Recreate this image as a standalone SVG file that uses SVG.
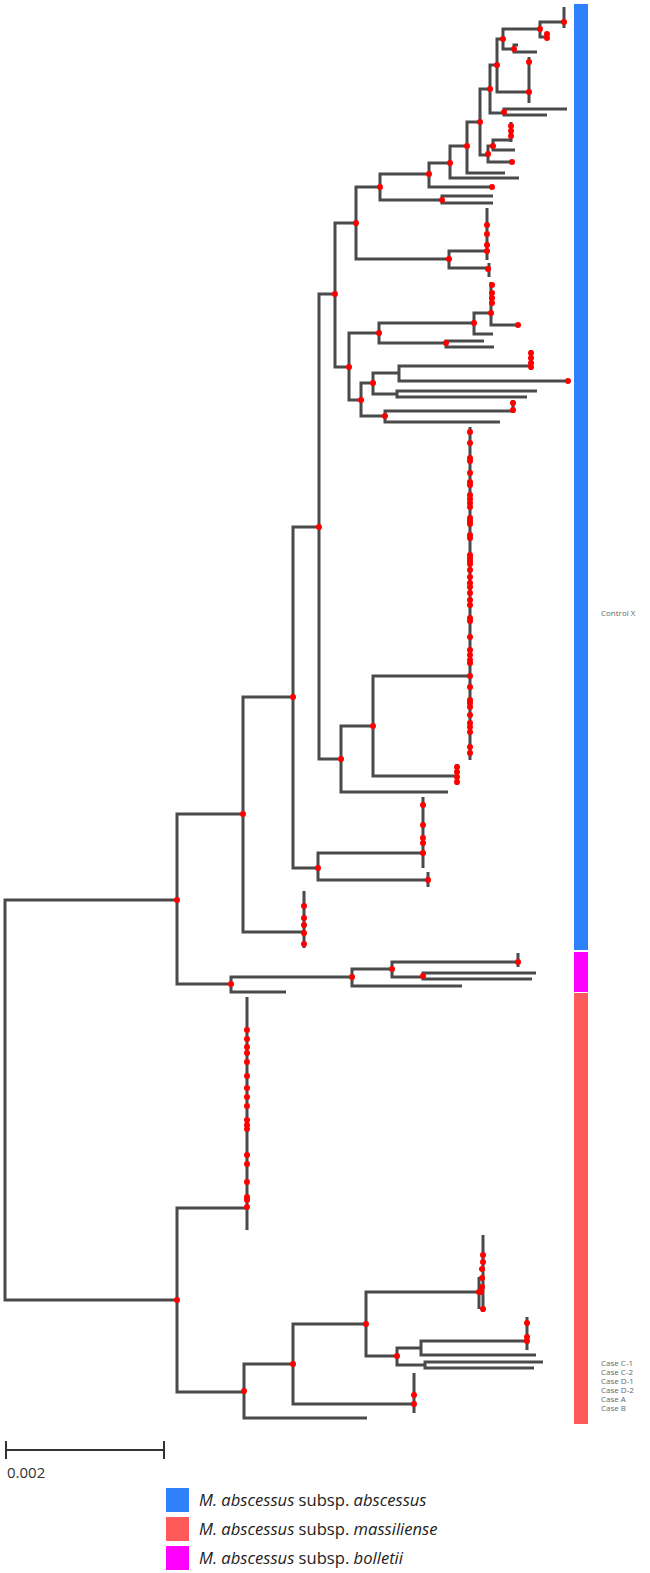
<svg xmlns="http://www.w3.org/2000/svg" width="650" height="1573" viewBox="0 0 650 1573">
<style>
.br{fill:none;stroke:#4a4a4a;stroke-width:3}
.d{fill:#ff0000}
.lab{font-family:"Open Sans","Liberation Sans",sans-serif;font-size:8px;fill:#666}
.leg{font-family:"Open Sans","Liberation Sans",sans-serif;font-size:16.6px;fill:#222}
.sc{font-family:"Open Sans","Liberation Sans",sans-serif;font-size:15px;fill:#333}
</style>
<rect width="650" height="1573" fill="#fff"/>
<g id="connectors">
<path class="br" d="M5 1100V900H177 M5 1100V1300H177
M177 900V814H243 M177 900V984H231
M243 814V697H293 M243 814V932H304 M304 891V948
M293 697V527H319 M293 697V868H318
M319 527V294H335 M319 527V759H341
M335 294V223H356 M335 294V367H349
M356 223V187H380 M356 223V259H449
M449 259V251H487 M449 259V268H488 M487 208V260 M489 263V277
M380 187V174H429 M380 187V200H442
M442 200V196H493 M442 200V203H493
M429 174V163H450 M429 174V187H492
M450 163V146H467 M450 163V178H519
M467 146V122H480 M467 146V173H505
M480 122V89H490 M480 122V155H488
M490 89V65H497 M490 89V113H504
M504 112V109H567 M504 112V115H547
M497 65V39H503 M497 65V92H529 M529 57V103
M503 39V29H540 M503 39V49H514
M540 29V22H564 M540 29V37H547 M564 7V28 M547 33V39
M514 49V45H518 M514 49V52H537
M488 154V146H493 M488 154V162H512
M493 146V140H511 M511 122V142 M493 146V150H515
M349 367V333H379 M349 367V400H361
M379 333V323H474 M379 333V343H446
M474 323V313H491 M474 323V334H493
M491 282V313V325H518
M446 343V341H484 M446 343V347H494
M361 400V383H373 M361 400V416H385
M373 383V373H399 M373 383V394H397
M399 373V366H531 M399 373V381H568 M531 350V370
M397 394V391H537 M397 394V397H527
M385 416V411H513 M385 416V422H500 M513 400V413
M341 759V726H373 M341 759V792H448
M373 726V676H470 M373 726V776H457 M470 427V760 M457 764V785
M318 868V853H423 M318 868V880H428 M423 797V868 M428 872V887
M231 984V977H352 M231 984V992H286
M352 977V969H392 M352 977V986H462
M392 969V962H518 M392 969V977H423 M518 953V967
M423 976V973H536 M423 976V979H532
M177 1300V1208H247 M177 1300V1392H244 M247 997V1230
M244 1391V1364H293 M244 1391V1418H367
M293 1364V1324H366 M293 1364V1404H414 M414 1373V1413
M366 1324V1292H479 M366 1324V1356H397 M479 1277V1309 M483 1235V1312
M397 1356V1348H421 M397 1356V1365H425
M421 1348V1341H527 M421 1348V1355H536 M527 1317V1350
M425 1365V1362H543 M425 1365V1368H534"/>
</g>
<g id="internal-nodes">
<g id="n-A"><circle class="d" cx="177" cy="900" r="3"/></g>
<g id="n-B"><circle class="d" cx="177" cy="1300" r="3"/></g>
<g id="n-C1"><circle class="d" cx="243" cy="814" r="3"/></g>
<g id="n-C"><circle class="d" cx="293" cy="697" r="3"/></g>
<g id="n-D0"><circle class="d" cx="319" cy="527" r="3"/></g>
<g id="n-D"><circle class="d" cx="335" cy="294" r="3"/></g>
<g id="n-E"><circle class="d" cx="356" cy="223" r="3"/></g>
<g id="n-G"><circle class="d" cx="380" cy="187" r="3"/></g>
<g id="n-H"><circle class="d" cx="449" cy="259" r="3"/></g>
<g id="n-I"><circle class="d" cx="429" cy="174" r="3"/></g>
<g id="n-J"><circle class="d" cx="442" cy="200" r="3"/></g>
<g id="n-K"><circle class="d" cx="450" cy="163" r="3"/></g>
<g id="n-M"><circle class="d" cx="467" cy="146" r="3"/></g>
<g id="n-P"><circle class="d" cx="480" cy="122" r="3"/></g>
<g id="n-Q"><circle class="d" cx="490" cy="89" r="3"/></g>
<g id="n-T"><circle class="d" cx="497" cy="65" r="3"/></g>
<g id="n-U"><circle class="d" cx="504" cy="112" r="3"/></g>
<g id="n-V"><circle class="d" cx="503" cy="39" r="3"/></g>
<g id="n-W"><circle class="d" cx="540" cy="29" r="3"/></g>
<g id="n-X"><circle class="d" cx="514" cy="49" r="3"/></g>
<g id="n-S"><circle class="d" cx="488" cy="154" r="3"/><circle class="d" cx="493" cy="146" r="3"/></g>
<g id="n-F"><circle class="d" cx="349" cy="367" r="3"/></g>
<g id="n-F1"><circle class="d" cx="379" cy="333" r="3"/></g>
<g id="n-F3"><circle class="d" cx="474" cy="323" r="3"/></g>
<g id="n-F4"><circle class="d" cx="446" cy="343" r="3"/></g>
<g id="n-F2"><circle class="d" cx="361" cy="400" r="3"/></g>
<g id="n-F6"><circle class="d" cx="373" cy="383" r="3"/></g>
<g id="n-F7"><circle class="d" cx="385" cy="416" r="3"/></g>
<g id="n-N341"><circle class="d" cx="341" cy="759" r="3"/></g>
<g id="n-N373"><circle class="d" cx="373" cy="726" r="3"/></g>
<g id="n-N318"><circle class="d" cx="318" cy="868" r="3"/></g>
<g id="n-A2"><circle class="d" cx="231" cy="984" r="3"/></g>
<g id="n-A3"><circle class="d" cx="352" cy="977" r="3"/></g>
<g id="n-A4"><circle class="d" cx="392" cy="969" r="3"/></g>
<g id="n-A5"><circle class="d" cx="423" cy="976" r="3"/></g>
<g id="n-B1"><circle class="d" cx="244" cy="1391" r="3"/></g>
<g id="n-B2"><circle class="d" cx="293" cy="1364" r="3"/></g>
<g id="n-B3"><circle class="d" cx="366" cy="1324" r="3"/></g>
<g id="n-B4"><circle class="d" cx="479" cy="1292" r="3"/></g>
<g id="n-B5"><circle class="d" cx="397" cy="1356" r="3"/></g>
</g>
<g id="tip-nodes">
<g id="t-top"><circle class="d" cx="564" cy="22" r="3"/><circle class="d" cx="547" cy="34" r="3"/><circle class="d" cx="547" cy="38" r="3"/><circle class="d" cx="529" cy="62" r="3"/><circle class="d" cx="529" cy="92" r="3"/><circle class="d" cx="511" cy="126" r="3"/><circle class="d" cx="511" cy="131" r="3"/><circle class="d" cx="511" cy="136" r="3"/><circle class="d" cx="512" cy="162" r="3"/><circle class="d" cx="492" cy="187" r="3"/><circle class="d" cx="487" cy="225" r="3"/><circle class="d" cx="487" cy="234" r="3"/><circle class="d" cx="487" cy="245" r="3"/><circle class="d" cx="487" cy="251" r="3"/><circle class="d" cx="488" cy="269" r="3"/></g>
<g id="t-mid"><circle class="d" cx="492" cy="285" r="3"/><circle class="d" cx="492" cy="293" r="3"/><circle class="d" cx="492" cy="298" r="3"/><circle class="d" cx="492" cy="303" r="3"/><circle class="d" cx="491" cy="313" r="3"/><circle class="d" cx="518" cy="325" r="3"/><circle class="d" cx="531" cy="353" r="3"/><circle class="d" cx="531" cy="358" r="3"/><circle class="d" cx="531" cy="363" r="3"/><circle class="d" cx="531" cy="367" r="3"/><circle class="d" cx="568" cy="381" r="3"/><circle class="d" cx="513" cy="403" r="3"/><circle class="d" cx="513" cy="410" r="3"/></g>
<g id="t-big"><circle class="d" cx="470" cy="432" r="3"/><circle class="d" cx="470" cy="443" r="3"/><circle class="d" cx="470" cy="458" r="3"/><circle class="d" cx="470" cy="461" r="3"/><circle class="d" cx="470" cy="473" r="3"/><circle class="d" cx="470" cy="482" r="3"/><circle class="d" cx="470" cy="485" r="3"/><circle class="d" cx="470" cy="495" r="3"/><circle class="d" cx="470" cy="499" r="3"/><circle class="d" cx="470" cy="503" r="3"/><circle class="d" cx="470" cy="507" r="3"/><circle class="d" cx="470" cy="518" r="3"/><circle class="d" cx="470" cy="521" r="3"/><circle class="d" cx="470" cy="524" r="3"/><circle class="d" cx="470" cy="535" r="3"/><circle class="d" cx="470" cy="538" r="3"/><circle class="d" cx="470" cy="555" r="3"/><circle class="d" cx="470" cy="558" r="3"/><circle class="d" cx="470" cy="561" r="3"/><circle class="d" cx="470" cy="564" r="3"/><circle class="d" cx="470" cy="570" r="3"/><circle class="d" cx="470" cy="577" r="3"/><circle class="d" cx="470" cy="583" r="3"/><circle class="d" cx="470" cy="587" r="3"/><circle class="d" cx="470" cy="593" r="3"/><circle class="d" cx="470" cy="600" r="3"/><circle class="d" cx="470" cy="605" r="3"/><circle class="d" cx="470" cy="618" r="3"/><circle class="d" cx="470" cy="621" r="3"/><circle class="d" cx="470" cy="637" r="3"/><circle class="d" cx="470" cy="650" r="3"/><circle class="d" cx="470" cy="655" r="3"/><circle class="d" cx="470" cy="660" r="3"/><circle class="d" cx="470" cy="663" r="3"/><circle class="d" cx="470" cy="676" r="3"/><circle class="d" cx="470" cy="687" r="3"/><circle class="d" cx="470" cy="700" r="3"/><circle class="d" cx="470" cy="703" r="3"/><circle class="d" cx="470" cy="707" r="3"/><circle class="d" cx="470" cy="715" r="3"/><circle class="d" cx="470" cy="723" r="3"/><circle class="d" cx="470" cy="727" r="3"/><circle class="d" cx="470" cy="732" r="3"/><circle class="d" cx="470" cy="747" r="3"/><circle class="d" cx="470" cy="753" r="3"/><circle class="d" cx="457" cy="767" r="3"/><circle class="d" cx="457" cy="772" r="3"/><circle class="d" cx="457" cy="777" r="3"/><circle class="d" cx="457" cy="782" r="3"/></g>
<g id="t-lower"><circle class="d" cx="423" cy="805" r="3"/><circle class="d" cx="423" cy="825" r="3"/><circle class="d" cx="423" cy="838" r="3"/><circle class="d" cx="423" cy="843" r="3"/><circle class="d" cx="423" cy="853" r="3"/><circle class="d" cx="428" cy="880" r="3"/><circle class="d" cx="304" cy="906" r="3"/><circle class="d" cx="304" cy="918" r="3"/><circle class="d" cx="304" cy="925" r="3"/><circle class="d" cx="304" cy="933" r="3"/><circle class="d" cx="304" cy="944" r="3"/><circle class="d" cx="518" cy="962" r="3"/></g>
<g id="t-mass"><circle class="d" cx="247" cy="1030" r="3"/><circle class="d" cx="247" cy="1039" r="3"/><circle class="d" cx="247" cy="1047" r="3"/><circle class="d" cx="247" cy="1053" r="3"/><circle class="d" cx="247" cy="1062" r="3"/><circle class="d" cx="247" cy="1076" r="3"/><circle class="d" cx="247" cy="1088" r="3"/><circle class="d" cx="247" cy="1097" r="3"/><circle class="d" cx="247" cy="1106" r="3"/><circle class="d" cx="247" cy="1120" r="3"/><circle class="d" cx="247" cy="1125" r="3"/><circle class="d" cx="247" cy="1129" r="3"/><circle class="d" cx="247" cy="1155" r="3"/><circle class="d" cx="247" cy="1164" r="3"/><circle class="d" cx="247" cy="1182" r="3"/><circle class="d" cx="247" cy="1197" r="3"/><circle class="d" cx="247" cy="1200" r="3"/><circle class="d" cx="247" cy="1207" r="3"/><circle class="d" cx="483" cy="1255" r="3"/><circle class="d" cx="483" cy="1262" r="3"/><circle class="d" cx="482" cy="1269" r="3"/><circle class="d" cx="482" cy="1278" r="3"/><circle class="d" cx="482" cy="1287" r="3"/><circle class="d" cx="481" cy="1292" r="3"/><circle class="d" cx="483" cy="1309" r="3"/><circle class="d" cx="527" cy="1323" r="3"/><circle class="d" cx="527" cy="1337" r="3"/><circle class="d" cx="527" cy="1341" r="3"/><circle class="d" cx="414" cy="1395" r="3"/><circle class="d" cx="414" cy="1404" r="3"/></g>
</g>
<g id="strip">
<rect x="574" y="4" width="14" height="946" fill="#2f80fb"/>
<rect x="574" y="952" width="14" height="40" fill="#ff00ff"/>
<rect x="574" y="993" width="14" height="431" fill="#ff5a5a"/>
</g>
<g id="labels">
<text class="lab" x="601" y="616">Control X</text>
<text class="lab" x="601" y="1366">Case C-1</text>
<text class="lab" x="601" y="1375">Case C-2</text>
<text class="lab" x="601" y="1384">Case D-1</text>
<text class="lab" x="601" y="1393">Case D-2</text>
<text class="lab" x="601" y="1402">Case A</text>
<text class="lab" x="601" y="1411">Case B</text>
</g>
<g id="scale-bar">
<path d="M6 1450H164 M6 1441V1459 M164 1441V1459" fill="none" stroke="#333" stroke-width="2"/>
<text class="sc" x="7" y="1478">0.002</text>
</g>
<g id="legend">
<rect x="166" y="1488" width="23" height="24" fill="#2f80fb"/>
<rect x="166" y="1517" width="23" height="24" fill="#ff5a5a"/>
<rect x="166" y="1546" width="23" height="24" fill="#ff00ff"/>
<text class="leg" x="199" y="1506"><tspan font-style="italic">M. abscessus</tspan> subsp. <tspan font-style="italic">abscessus</tspan></text>
<text class="leg" x="199" y="1535"><tspan font-style="italic">M. abscessus</tspan> subsp. <tspan font-style="italic">massiliense</tspan></text>
<text class="leg" x="199" y="1564"><tspan font-style="italic">M. abscessus</tspan> subsp. <tspan font-style="italic">bolletii</tspan></text>
</g>
</svg>
